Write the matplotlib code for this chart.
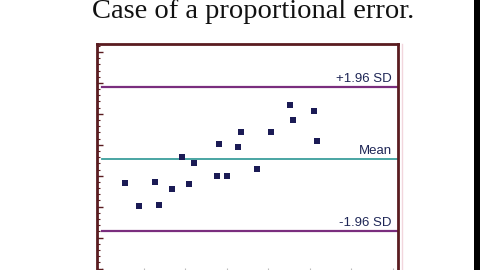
import matplotlib
matplotlib.use("Agg")
import matplotlib.pyplot as plt
from matplotlib.ticker import MultipleLocator
from matplotlib.patches import Rectangle
from matplotlib.lines import Line2D

# data (x = average, y = difference)
avg = [15.5, 19.0, 22.8, 23.8, 26.8, 29.3, 31.0, 32.1, 37.6, 38.1,
       40.1, 42.7, 43.4, 47.3, 50.6, 55.2, 55.9, 61.0, 61.6]
diff = [2.76, 2.01, 2.80, 2.05, 2.58, 3.60, 2.72, 3.41, 2.99, 4.02,
        2.99, 3.93, 4.41, 3.22, 4.41, 5.28, 4.80, 5.10, 4.12]
mean_diff = 3.53
upper_loa = 5.86
lower_loa = 1.20
line_labels = ["+1.96 SD", "Mean", "-1.96 SD"]

W, H = 480, 270
fig = plt.figure(figsize=(4.8, 2.7), dpi=100)
fig.patch.set_facecolor("white")

# axes box (bottom edge runs just past the image)
left, right, top, bottom = 97, 398, 44, 272
ax = fig.add_axes([left / W, 1 - bottom / H, (right - left) / W, (bottom - top) / H])
ax.set_xlim(8.8, 81.2)
ax.set_ylim(-0.113, 7.258)

spine_col = "#5a1c20"
for s in ["left", "top", "right"]:
    ax.spines[s].set_color(spine_col)
    ax.spines[s].set_linewidth(2)
ax.spines["bottom"].set_color("#cccccc")
ax.spines["bottom"].set_linewidth(1)

ax.yaxis.set_major_locator(MultipleLocator(1))
ax.yaxis.set_minor_locator(MultipleLocator(0.2))
ax.xaxis.set_major_locator(MultipleLocator(10))
ax.tick_params(axis="y", which="major", direction="in", length=4, width=1,
               color=spine_col, labelleft=False)
ax.tick_params(axis="y", which="minor", direction="in", length=2.5, width=0.8,
               color=spine_col)
ax.tick_params(axis="x", which="major", direction="in", length=3, width=0.8,
               color="#bbbbbb", labelbottom=False)

# limits of agreement and mean
purple = "#7a2e7e"
teal = "#3a9e9c"
ax.axhline(upper_loa, xmin=0.018, xmax=1, color=purple, lw=1.6)
ax.axhline(mean_diff, xmin=0.018, xmax=1, color=teal, lw=1.3)
ax.axhline(lower_loa, xmin=0.018, xmax=1, color=purple, lw=1.6)

tr = ax.get_yaxis_transform()
for lab, yv in zip(line_labels, [upper_loa, mean_diff, lower_loa]):
    ax.annotate(lab, xy=(0.979, yv), xycoords=tr, xytext=(0, 4),
                textcoords="offset points", ha="right", va="baseline",
                fontsize=9.5, color="#1e2656", family="Liberation Sans")

ax.scatter(avg, diff, marker="s", s=22, color="#1b1b55", zorder=3, linewidths=0)

fig.text(253 / W, 1 - 18.5 / H, "Case of a proportional error.", ha="center",
         va="baseline", fontsize=20.5, family="Liberation Serif", color="#111111")

# faint pink frame line and dark strip on the right edge
fig.add_artist(Line2D([402 / W, 402 / W], [0, 1 - 44 / H], transform=fig.transFigure,
                      color="#f2d6dc", lw=1))
fig.add_artist(Rectangle((474 / W, 0), 6 / W, 1, transform=fig.transFigure,
                         color="black", lw=0))

fig.savefig("out.png", dpi=100)
